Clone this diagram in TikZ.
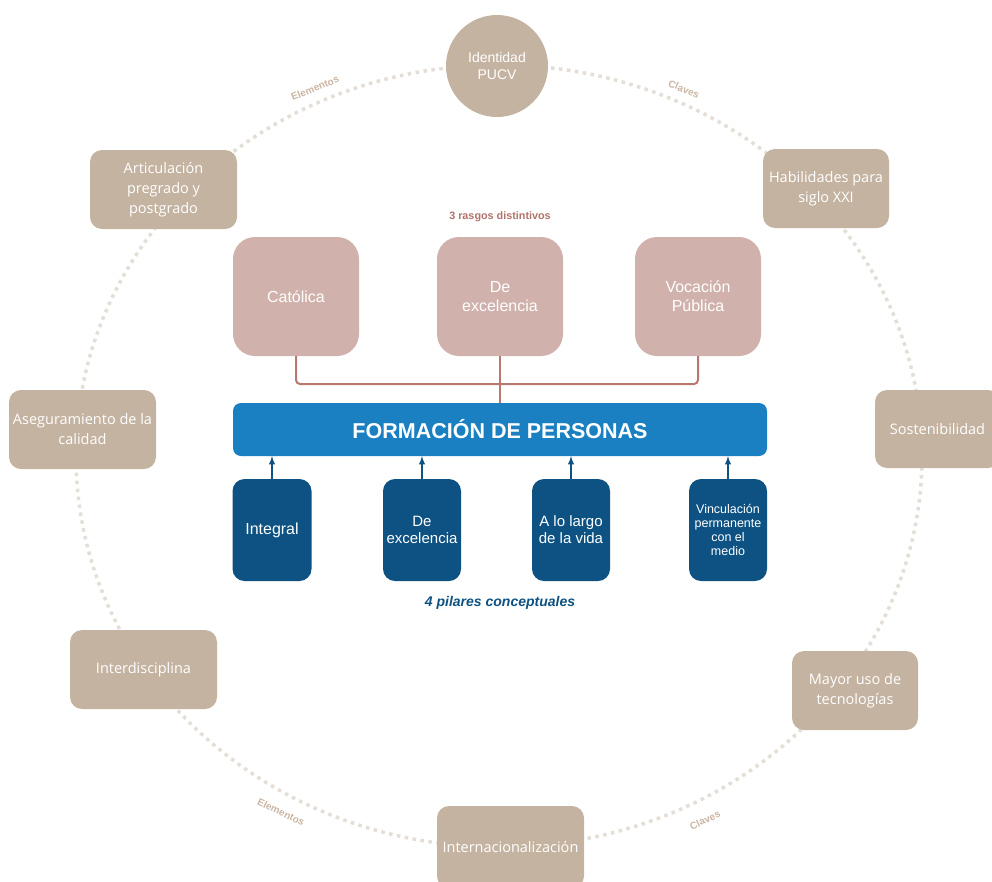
\documentclass[tikz,border=0pt]{standalone}
\usepackage{fontspec}
\setmainfont{Liberation Sans}
\newfontfamily\opensans{Open Sans}
\definecolor{tan}{HTML}{C5B3A1}
\definecolor{tanlabel}{HTML}{C9B5A2}
\definecolor{dotgrey}{HTML}{E4DED6}
\definecolor{rose}{HTML}{D0B1AC}
\definecolor{roseline}{HTML}{B8786F}
\definecolor{rosetext}{HTML}{B0736B}
\definecolor{midblue}{HTML}{1A80C2}
\definecolor{darkblue}{HTML}{0D5282}

\begin{document}
\begin{tikzpicture}[x=1pt,y=-1pt,
    outer/.style={fill=tan,text=white,rounded corners=12pt,align=center,inner sep=0pt,
      font=\opensans\fontsize{14.5}{20}\selectfont},
    rasgo/.style={fill=rose,text=white,rounded corners=22pt,align=center,inner sep=0pt,
      minimum width=126pt,minimum height=119pt,font=\fontsize{16}{19}\selectfont},
    pilar/.style={fill=darkblue,text=white,rounded corners=12pt,align=center,inner sep=0pt,
      minimum width=78pt,minimum height=102pt,font=\fontsize{15}{17}\selectfont},
    arclabel/.style={text=tanlabel,font=\bfseries\fontsize{10}{12}\selectfont},
    rasgoline/.style={draw=roseline,line width=2pt,rounded corners=4pt},
    pilarline/.style={draw=darkblue,line width=1.8pt,-latex}]
    \useasboundingbox (0,0) rectangle (992,881);
    \draw[dotgrey,line width=3.5pt,dash pattern=on 3.5pt off 4.5pt] (499,456) ellipse [x radius=423pt,y radius=391pt];
    \node[arclabel,rotate=22] (elem1) at (315,88) {Elementos};
    \node[arclabel,rotate=-22] (clav1) at (684,89) {Claves};
    \node[arclabel,rotate=-25] (elem2) at (281,812) {Elementos};
    \node[arclabel,rotate=25] (clav2) at (705,820) {Claves};
    \node[circle,fill=tan,text=white,minimum size=102pt,inner sep=0pt,align=center,
      font=\fontsize{14}{17}\selectfont] (ident) at (497,66) {Identidad\\PUCV};
    \node[outer,minimum width=147pt,minimum height=79pt] (artic) at (163.5,189.5) {Articulación\\pregrado y\\postgrado};
    \node[outer,minimum width=126pt,minimum height=79pt] (habil) at (826,188.5) {Habilidades para\\siglo XXI};
    \node[outer,minimum width=147pt,minimum height=79pt] (asegu) at (82.5,429.5) {Aseguramiento de la\\calidad};
    \node[outer,minimum width=125pt,minimum height=78pt] (soste) at (937.5,429) {Sostenibilidad};
    \node[outer,minimum width=147pt,minimum height=79pt] (inter) at (143.5,669.5) {Interdisciplina};
    \node[outer,minimum width=126pt,minimum height=79pt] (tecno) at (855,690.5) {Mayor uso de\\tecnologías};
    \node[outer,minimum width=147pt,minimum height=82pt] (intnl) at (510.5,847) {Internacionalización};
    \node[text=rosetext,font=\bfseries\fontsize{10.8}{13}\selectfont] (rasgos) at (500,217) {3 rasgos distintivos};
    \node[rasgo] (catol) at (296,296.5) {Católica};
    \node[rasgo] (excel) at (500,296.5) {De\\excelencia};
    \node[rasgo] (vocac) at (698,296.5) {Vocación\\Pública};
    \node[fill=midblue,text=white,rounded corners=8pt,minimum width=534pt,minimum height=53pt,inner sep=0pt,
      font=\bfseries\fontsize{21.5}{24}\selectfont] (forma) at (500,429.5) {FORMACIÓN DE PERSONAS};
    \coordinate (junta) at (500,384);
    \draw[rasgoline] (catol.south) |- (junta) -| (vocac.south);
    \draw[rasgoline] (excel.south) -- (forma.north);
    \node[pilar,minimum width=79pt,font=\fontsize{16}{18}\selectfont] (integ) at (272,530) {Integral};
    \node[pilar] (pexce) at (422,530) {De\\excelencia};
    \node[pilar] (largo) at (571,530) {A lo largo\\de la vida};
    \node[pilar,font=\fontsize{12.5}{14}\selectfont] (vincu) at (728,530) {Vinculación\\permanente\\con el\\medio};
    \draw[pilarline] (integ.north) -- (integ.north |- forma.south);
    \draw[pilarline] (pexce.north) -- (pexce.north |- forma.south);
    \draw[pilarline] (largo.north) -- (largo.north |- forma.south);
    \draw[pilarline] (vincu.north) -- (vincu.north |- forma.south);
    \node[text=darkblue,font=\bfseries\itshape\fontsize{14}{16}\selectfont] (pilares) at (500,603) {4 pilares conceptuales};
\end{tikzpicture}
\end{document}
